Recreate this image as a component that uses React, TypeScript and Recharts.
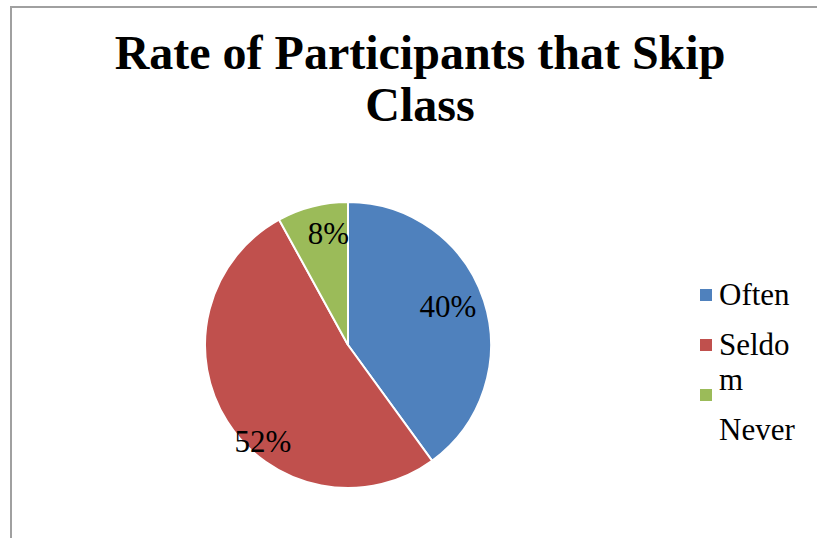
import { Cell, Legend, Pie, PieChart } from 'recharts'

const CATEGORIES = ['Often', 'Seldom', 'Never']
const SHARES = [40, 52, 8]
const COLORS = ['#4f81bd', '#c0504d', '#9bbb59']

const TITLE = 'Rate of Participants that Skip Class'

// Excel's "best fit" label placement, as radius fraction and angle shift
const LABEL_FIT = [
  { r: 0.75, da: 3.3 },
  { r: 0.9, da: 16.2 },
  { r: 0.79, da: -4.4 },
]

const RADIAN = Math.PI / 180
const SERIF = '"Liberation Serif", "Times New Roman", Times, serif'

const data = CATEGORIES.map((name, i) => ({ name, value: SHARES[i] }))

function renderLabel(props: any) {
  const { cx, cy, midAngle, outerRadius, index, value } = props
  const fit = LABEL_FIT[index]
  const angle = (midAngle + fit.da) * RADIAN
  const x = cx + outerRadius * fit.r * Math.cos(angle)
  const y = cy - outerRadius * fit.r * Math.sin(angle)
  return (
    <text
      x={x}
      y={y}
      textAnchor="middle"
      dominantBaseline="central"
      style={{ fontFamily: SERIF, fontSize: 31 }}
      fill="#000"
    >
      {`${value}%`}
    </text>
  )
}

function LegendBox() {
  return (
    <div style={{ display: 'flex', fontFamily: SERIF, fontSize: 31, color: '#000' }}>
      <div style={{ width: 19 }}>
        {data.map((d, i) => (
          <div key={d.name} style={{ height: 50, position: 'relative' }}>
            <div
              style={{
                position: 'absolute',
                left: 0,
                top: 12,
                width: 12,
                height: 12,
                background: COLORS[i],
              }}
            />
          </div>
        ))}
      </div>
      <div style={{ width: 82, lineHeight: '35px', wordBreak: 'break-all', textAlign: 'left' }}>
        {data.map((d) => (
          <div key={d.name} style={{ marginBottom: 15 }}>
            {d.name}
          </div>
        ))}
      </div>
    </div>
  )
}

export default function App() {
  return (
    <div style={{ position: 'absolute', left: 0, top: 0, width: 817, height: 538, overflow: 'hidden', background: '#fff' }}>
      <div
        style={{
          position: 'absolute',
          left: 10,
          top: 6,
          width: 830,
          height: 560,
          borderLeft: '2px solid #a0a0a0',
          borderTop: '2px solid #a0a0a0',
        }}
      />
      <div
        style={{
          position: 'absolute',
          left: 12,
          top: 27,
          width: 816,
          textAlign: 'center',
          fontFamily: SERIF,
          fontWeight: 'bold',
          fontSize: 48,
          lineHeight: '52px',
          color: '#000',
        }}
      >
        <div style={{ width: 640, margin: '0 auto' }}>{TITLE}</div>
      </div>
      <div style={{ position: 'absolute', left: 0, top: 0 }}>
        <PieChart width={817} height={538} margin={{ top: 0, right: 0, bottom: 0, left: 0 }}>
          <Pie
            data={data}
            dataKey="value"
            nameKey="name"
            cx={348}
            cy={345}
            outerRadius={143}
            startAngle={90}
            endAngle={-270}
            stroke="#fff"
            strokeWidth={2}
            labelLine={false}
            label={renderLabel}
            isAnimationActive={false}
          >
            {data.map((d, i) => (
              <Cell key={d.name} fill={COLORS[i]} />
            ))}
          </Pie>
          <Legend
            content={<LegendBox />}
            wrapperStyle={{ position: 'absolute', left: 700, top: 277, width: 110 }}
          />
        </PieChart>
      </div>
    </div>
  )
}
